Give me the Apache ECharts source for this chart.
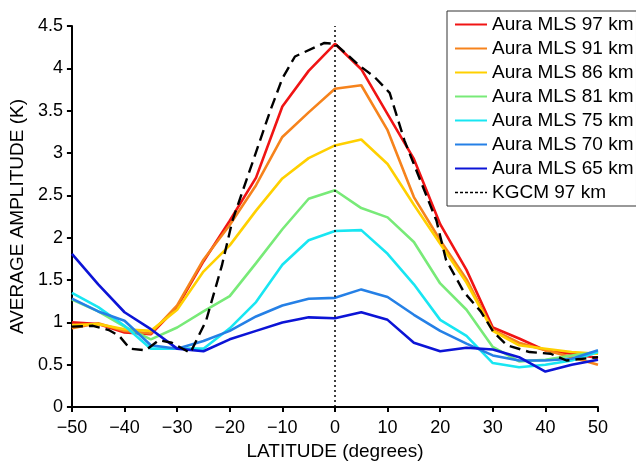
<!DOCTYPE html>
<html>
<head>
<meta charset="utf-8">
<script src="https://cdn.jsdelivr.net/npm/echarts@6/dist/echarts.min.js"></script>
<style>
  html, body { margin: 0; padding: 0; background: #fff; }
  #chart { width: 636px; height: 466px; }
</style>
</head>
<body>
<div id="chart"></div>
<script>
// Latitudes of the Aura MLS zonal means (degrees)
const latitudes = [-50, -45, -40, -35, -30, -25, -20, -15, -10, -5, 0, 5, 10, 15, 20, 25, 30, 35, 40, 45, 50];

// Average amplitude (K) per altitude
const mls97 = [1.00, 0.98, 0.88, 0.86, 1.18, 1.72, 2.20, 2.71, 3.55, 3.97, 4.29, 3.99, 3.46, 2.93, 2.16, 1.62, 0.94, 0.81, 0.67, 0.63, 0.58];
const mls91 = [0.93, 0.99, 0.90, 0.87, 1.20, 1.74, 2.15, 2.62, 3.19, 3.48, 3.76, 3.80, 3.27, 2.48, 1.97, 1.51, 0.91, 0.76, 0.67, 0.59, 0.50];
const mls86 = [0.97, 0.98, 0.92, 0.90, 1.15, 1.60, 1.91, 2.32, 2.70, 2.94, 3.09, 3.16, 2.87, 2.39, 1.93, 1.47, 0.90, 0.73, 0.69, 0.65, 0.63];
const mls81 = [1.27, 1.13, 0.95, 0.80, 0.94, 1.13, 1.31, 1.70, 2.10, 2.46, 2.56, 2.35, 2.24, 1.95, 1.46, 1.15, 0.71, 0.54, 0.56, 0.61, 0.65];
const mls75 = [1.35, 1.18, 0.96, 0.69, 0.69, 0.69, 0.93, 1.24, 1.68, 1.97, 2.08, 2.09, 1.81, 1.45, 1.03, 0.84, 0.52, 0.47, 0.50, 0.55, 0.65];
const mls70 = [1.28, 1.13, 1.02, 0.73, 0.69, 0.78, 0.90, 1.07, 1.20, 1.28, 1.29, 1.39, 1.30, 1.09, 0.90, 0.75, 0.61, 0.55, 0.55, 0.57, 0.67];
const mls65 = [1.81, 1.45, 1.12, 0.92, 0.69, 0.66, 0.80, 0.90, 1.00, 1.06, 1.05, 1.12, 1.03, 0.76, 0.66, 0.70, 0.68, 0.59, 0.42, 0.50, 0.56];

// KGCM 97 km on the model's own latitude grid
const kgcmLat = [-50, -46, -43, -41, -39, -36, -33.5, -31, -27.5, -24.5, -21.5, -19.5, -15.5, -12.3, -10, -7.6, -2, 0, 4.7, 7.5, 10.4, 13.2, 16.4, 19.3, 21.1, 24.5, 27.7, 30.2, 32.7, 37, 41, 44, 50];
const kgcm97 = [0.95, 0.96, 0.91, 0.84, 0.69, 0.67, 0.79, 0.76, 0.64, 1.02, 1.67, 2.20, 2.92, 3.50, 3.88, 4.14, 4.30, 4.29, 4.03, 3.90, 3.71, 3.15, 2.65, 2.20, 1.74, 1.36, 1.13, 0.88, 0.73, 0.65, 0.63, 0.55, 0.59];

const xTicks = { min: -50, max: 50, step: 10 };
const yTicks = { min: 0, max: 4.5, step: 0.5 };

const mlsSeries = [
  { name: 'Aura MLS 97 km', values: mls97, color: '#f01414' },
  { name: 'Aura MLS 91 km', values: mls91, color: '#f6831c' },
  { name: 'Aura MLS 86 km', values: mls86, color: '#ffd000' },
  { name: 'Aura MLS 81 km', values: mls81, color: '#78ea78' },
  { name: 'Aura MLS 75 km', values: mls75, color: '#18e6f2' },
  { name: 'Aura MLS 70 km', values: mls70, color: '#2580e6' },
  { name: 'Aura MLS 65 km', values: mls65, color: '#0c14d6' }
];

const FONT = "'Liberation Sans', Arial, Helvetica, sans-serif";
const pair = (xs, ys) => xs.map((x, i) => [x, ys[i]]);
const minus = v => String(v).replace('-', '\u2212');

const series = mlsSeries.map(s => ({
  name: s.name,
  type: 'line',
  data: pair(latitudes, s.values),
  symbol: 'none',
  lineStyle: { color: s.color, width: 2.6 },
  itemStyle: { color: s.color },
  animation: false
}));

series.push({
  name: 'KGCM 97 km',
  type: 'line',
  data: pair(kgcmLat, kgcm97),
  symbol: 'none',
  lineStyle: { color: '#000', width: 2.4, type: [11, 6] },
  itemStyle: { color: '#000' },
  animation: false,
  // equator marker
  markLine: {
    silent: true,
    symbol: 'none',
    label: { show: false },
    lineStyle: { color: '#000', width: 1.5, type: [2, 3] },
    data: [{ xAxis: 0 }],
    animation: false
  }
});

const chart = echarts.init(document.getElementById('chart'), null, { renderer: 'canvas' });
chart.setOption({
  backgroundColor: '#fff',
  animation: false,
  textStyle: { fontFamily: FONT, color: '#000' },
  grid: { left: 69, right: 38, top: 26, bottom: 48, containLabel: false },
  legend: {
    orient: 'vertical',
    left: 447,
    top: 11,
    padding: [4, 3, 4, 7],
    borderColor: '#333',
    borderWidth: 1,
    backgroundColor: '#fff',
    itemWidth: 32,
    itemHeight: 14,
    itemGap: 5,
    itemStyle: { opacity: 0 },
    textStyle: { fontFamily: FONT, fontSize: 19, lineHeight: 19, color: '#000' },
    data: mlsSeries.map(s => ({ name: s.name })).concat([
      { name: 'KGCM 97 km', lineStyle: { type: [3, 2], width: 1.5, color: '#000' } }
    ])
  },
  xAxis: {
    type: 'value',
    min: xTicks.min,
    max: xTicks.max,
    interval: xTicks.step,
    name: 'LATITUDE (degrees)',
    nameLocation: 'middle',
    nameGap: 29,
    nameTextStyle: { fontFamily: FONT, fontSize: 19, color: '#000' },
    axisLine: { onZero: false, lineStyle: { color: '#000', width: 2 } },
    axisTick: { show: true, length: 5, lineStyle: { color: '#000', width: 2 } },
    axisLabel: { margin: 12, fontSize: 18, color: '#000', fontFamily: FONT, formatter: minus },
    splitLine: { show: false }
  },
  yAxis: {
    type: 'value',
    min: yTicks.min,
    max: yTicks.max,
    interval: yTicks.step,
    name: 'AVERAGE AMPLITUDE (K)',
    nameLocation: 'middle',
    nameGap: 43,
    nameTextStyle: { fontFamily: FONT, fontSize: 19, color: '#000' },
    axisLine: { show: true, onZero: false, lineStyle: { color: '#000', width: 2 } },
    axisTick: { show: true, length: 5, lineStyle: { color: '#000', width: 2 } },
    axisLabel: { margin: 9, fontSize: 18, color: '#000', fontFamily: FONT },
    splitLine: { show: false }
  },
  series: series
});
</script>
</body>
</html>
